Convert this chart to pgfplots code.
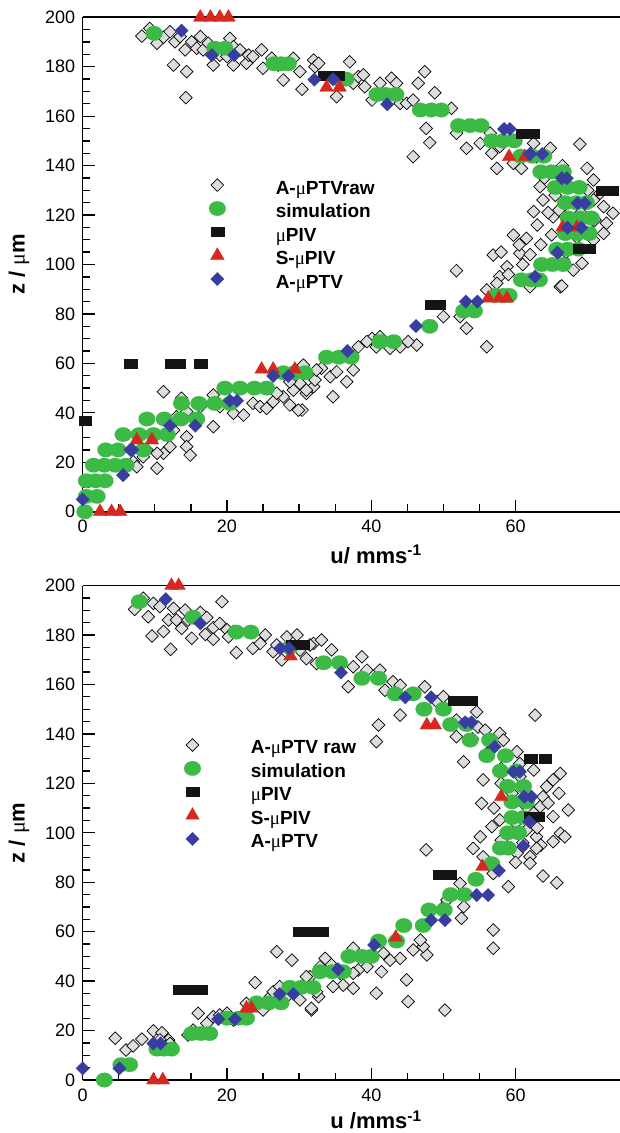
\documentclass[border=0pt]{standalone}
\usepackage{pgfplots}
\pgfplotsset{compat=1.18}
\usepackage{fontspec}
\setmainfont{Liberation Sans}
\newfontfamily\symf{Liberation Serif}
\newcommand{\mus}{{\symf\mdseries μ}}
\definecolor{rawgray}{RGB}{221,221,221}
\definecolor{simgreen}{RGB}{60,186,70}
\definecolor{pivred}{RGB}{214,40,30}
\definecolor{ptvblue}{RGB}{56,62,160}
\definecolor{pivblack}{RGB}{20,20,20}
\pgfplotsset{
 myleg/.style={legend image code/.code={\path[draw=none,fill=none] (-8pt,-6pt) rectangle (8pt,6pt); \draw[##1] plot coordinates {(0pt,0pt)};}},
 panel/.style={
  scale only axis, width=537.3pt, height=494.4pt,
  xmin=0, xmax=74.47, ymin=0, ymax=200,
  axis y line*=left,
  xtick={0,20,40,60}, ytick={0,20,...,200},
  minor x tick num=3, minor y tick num=3,
  xtick pos=bottom,
  tick align=inside,
  major tick length=12pt, minor tick length=7.5pt,
  tick style={black, line width=1.3pt},
  axis line style={line width=1.6pt},
  clip=false,
  /pgf/number format/assume math mode=true,
  tick label style={font=\fontsize{18}{20}\selectfont},
  yticklabel style={xshift=-4pt},
  xticklabel style={yshift=-5pt},
  every axis y label/.style={at={(axis description cs:-0.1186,0.5)}, rotate=90, anchor=center, font=\fontsize{22}{24}\selectfont\bfseries},
  every axis x label/.style={at={(axis description cs:0.546,-0.1044)}, anchor=base, font=\fontsize{22}{24}\selectfont\bfseries},
  legend style={draw=none, fill=none, inner sep=0pt, outer sep=0pt, font=\fontsize{19}{21}\selectfont\bfseries, row sep=1.5pt, column sep=50pt, nodes={inner sep=0pt, text height=20pt, text depth=2pt}},
  legend cell align=left,
 },
 rawst/.style={only marks, mark=square*, mark size=4.5pt, mark options={rotate=45, fill=rawgray, draw=black, line width=0.7pt}, myleg},
 simst/.style={only marks, mark=*, mark size=7.3pt, mark options={xscale=1.15, fill=simgreen, draw=simgreen, line width=0.1pt}, myleg},
 pivst/.style={only marks, mark=square*, mark size=4.5pt, mark options={xscale=1.4, fill=pivblack, draw=pivblack, line width=0.1pt}, myleg},
 spivst/.style={only marks, mark=triangle*, mark size=8pt, mark options={fill=pivred, draw=pivred, line width=0.1pt}, myleg},
 ptvst/.style={only marks, mark=square*, mark size=4.8pt, mark options={rotate=45, fill=ptvblue, draw=ptvblue, line width=0.1pt}, myleg},
}
\begin{document}
\begin{tikzpicture}
% ================= TOP PANEL =================
\begin{axis}[panel, at={(0pt,0pt)}, anchor=south west,
  xlabel={u/ mms\textsuperscript{-1}}, ylabel={z / \mus m},
  legend style={at={(axis description cs:0.235,0.683)}, anchor=north west}]
\addplot[rawst] table {
8.2 192.4
9.3 195.5
10.3 189.5
11.2 191.9
12.1 194.2
12.8 190.1
12.6 180.7
13.5 192.2
14.2 186.8
14.4 178
14.3 167.5
15.1 190.1
15.8 187.5
16.3 192.2
16.7 186.8
17.4 189.5
18.1 180.7
19.0 184.7
20.0 184.1
20.4 191.5
20.9 188.1
20.9 180.7
21.8 186.8
22.7 181.4
23.0 184.7
23.6 184.1
24.8 186.8
25.0 179.4
26.2 183.4
27.1 180.7
27.8 174.6
28.7 181.4
29.2 183.4
30.1 178
30.4 170.9
32.0 182.7
32.2 180
32.7 181.4
35.2 167.9
37.0 182
37.5 173.3
38.2 176
38.9 176.7
39.1 171.9
40.1 166.5
41.2 173.3
42.8 175.3
43.5 173.3
44.0 165.2
44.9 165.2
45.8 166.5
46.5 173.3
47.4 178
47.6 155.1
48.1 149.3
48.8 169.5
45.8 143.6
51.1 163.2
51.8 153.1
53.2 147
55.1 149
56.5 153.1
56.7 145
57.4 138.9
57.8 147.7
59.7 140.9
60.6 143.6
60.8 138.9
62.5 149
62.9 143.6
64.8 147
64.3 136.9
63.4 131.5
68.9 148.7
69.9 138.9
70.8 134.2
63.8 126.1
62.5 121.4
65.2 119.3
66.6 123.4
70.8 126.1
71.7 128.8
72.2 123.4
73.5 120.7
72.6 116.7
72.2 112.6
70.8 109.9
66.6 101.8
68.0 97.7
69.2 100.5
66.2 91
59.7 111.9
61.5 110.6
60.6 104.5
58.8 99.1
57.8 95.1
56.9 103.8
57.4 92.4
51.8 97.5
56.0 89.7
64.0 135
65.5 128
66.0 122
67.5 117
69.0 121
70.0 115
71.0 118
65.0 112
63.5 108
62.0 104
64.0 100
67.0 105
68.5 111
70.0 130
66.5 140
61.0 100
59.0 96
60.5 108
58.0 105
63.0 116
64.5 121
62.0 91
66.4 91.3
50.0 78.9
53.2 74.2
52.3 78.9
56.0 66.7
46.3 67.4
45.1 68.8
44.0 66.7
42.6 66.1
40.7 66.7
40.1 70.1
39.4 68.8
38.2 66.7
37.5 57.3
36.6 52.6
34.7 46.5
34.3 54.6
33.1 58
32.0 50.6
31.0 47.9
30.4 41.1
32.2 53.3
35.2 56.6
41.2 70.8
11.2 48.5
13.7 45.9
18.1 47.2
19.0 42.5
18.1 34.4
16.3 42.5
14.4 40.5
13.0 38.4
12.6 33.0
14.4 30.3
14.4 26.3
14.9 22.9
12.1 26.3
11.2 23.6
10.3 17.6
10.3 23.6
8.9 25
8.4 22.2
7.0 20.2
7.5 18.2
20.9 39.8
22.3 39.1
23.6 43.9
24.6 42.5
25.5 41.8
26.4 44.5
27.8 46.5
28.7 43.2
29.9 41.1
29.2 49.2
30.1 51.9
31.0 49.2
32.4 57.3
30.6 59.3
28.7 52.6
26.9 47.9
};
\addlegendentry{A-\mus PTVraw}
\addplot[simst] table {
9.9 193.5
18.3 187.5
19.7 187.5
26.5 181.2
27.5 181.2
28.5 181.2
35.5 175
36.5 175
40.8 168.8
42.0 168.8
43.4 168.8
46.8 162.5
48.3 162.5
49.7 162.5
52.1 156.2
53.7 156.2
55.2 156.2
56.7 150
58.2 150
59.8 150
60.7 143.8
62.3 143.8
63.9 143.8
63.5 137.5
65.0 137.5
66.6 137.5
65.5 131.2
67.2 131.2
68.8 131.2
66.9 125
68.4 125
69.8 125
67.3 118.8
68.9 118.8
70.5 118.8
66.9 112.5
68.6 112.5
70.2 112.5
65.7 106.2
67.2 106.2
68.7 106.2
63.6 100
65.1 100
66.6 100
60.8 93.8
62.2 93.8
63.3 93.8
57.2 87.5
58.3 87.5
59.1 87.5
52.8 81.2
54.3 81.2
48.1 75
41.2 68.8
43.1 68.8
33.8 62.5
35.5 62.5
37.2 62.5
27.8 56.2
29.3 56.2
30.8 56.2
19.7 50
21.8 50
23.8 50
25.5 50
13.7 43.8
16.1 43.8
18.3 43.8
20.4 43.8
8.9 37.5
11.3 37.5
13.6 37.5
15.8 37.5
5.6 31.2
7.8 31.2
9.8 31.2
11.7 31.2
3.2 25
4.9 25
8.4 25
1.5 18.8
3.0 18.8
4.5 18.8
6.0 18.8
0.5 12.5
1.8 12.5
3.1 12.5
0.5 6.2
2.0 6.2
0.3 0
};
\addlegendentry{simulation}
\addplot[pivst] table {
0.3 36.8
6.65 60
12.3 60
13.3 60
16.3 60
48.3 83.6
49.3 83.6
68.8 106.5
70.2 106.5
72.0 130
73.3 130
60.9 153.1
62.4 153.1
33.5 176.6
35.3 176.6
};
\addlegendentry{\mus PIV}
\addplot[spivst] table {
16.3 200
17.7 200
19.0 200
20.2 200
33.8 171.7
35.6 171.7
59.1 143.6
61.3 143.6
66.5 115
68.5 115
56.2 86.3
57.7 86.3
58.8 86.3
24.8 57.6
26.4 57.6
29.4 57.6
7.5 29
9.6 29
2.4 0
4.0 0
5.2 0
};
\addlegendentry{S-\mus PIV}
\addplot[ptvst] table {
13.7 194.6
17.9 184.7
21.0 184.7
32.1 174.8
34.7 174.9
42.2 164.8
58.4 154.8
59.2 154.8
62.0 144.7
63.7 144.7
66.4 134.9
67.1 134.9
68.6 124.8
69.6 124.8
67.2 114.9
69.1 114.9
65.8 104.8
62.7 95.1
53.1 85
54.7 85
46.2 75.1
36.7 65
26.4 54.9
28.5 54.9
20.4 44.9
21.4 44.9
12.1 34.8
15.6 34.8
6.6 25
6.9 25
5.6 14.8
0 5
};
\addlegendentry{A-\mus PTV}
\end{axis}
% ================= BOTTOM PANEL =================
\begin{axis}[panel, at={(0pt,-568.3pt)}, anchor=south west,
  xlabel={u /mms\textsuperscript{-1}}, ylabel={z / \mus m},
  every axis x label/.style={at={(axis description cs:0.546,-0.0985)}, anchor=base, font=\fontsize{22}{24}\selectfont\bfseries},
  legend style={at={(axis description cs:0.1887,0.70)}, anchor=north west}]
\addplot[rawst] table {
7.2 190.4
8.4 194.9
9.1 187.4
9.6 179.6
9.8 192.8
10.7 191.5
11.2 181.4
11.9 186.1
12.2 174.2
12.6 190.8
13.0 186.1
13.7 182.7
14.2 190.1
14.6 186.1
15.1 178.7
16.3 189.1
17.2 187.1
17.0 180.3
18.1 183
18.1 178.3
19.0 184.7
19.3 193.5
20.0 182.1
20.2 179.3
20.9 181.4
21.3 172.9
23.6 174.6
24.6 176.6
25.3 180
26.4 173.3
26.9 176
27.6 169.9
28.3 179.3
29.7 180
30.1 173.9
31.0 170.5
32.0 176.6
32.4 168.5
31.5 176
33.1 178
34.5 174
36.8 159.1
37.5 167.2
38.7 171.2
39.4 165.8
41.2 165.8
41.9 157.7
43.0 161.1
44.0 159.7
44.0 147.6
45.8 156.4
47.4 159.1
49.1 153
50.0 155.1
51.8 145.6
51.8 138.9
52.8 128.7
54.6 148.9
54.8 142.8
55.8 141.5
56.9 134.8
57.8 140.2
58.3 137.5
60.2 132.8
60.6 128
62.7 147.6
60.6 122.7
62.5 125.4
64.3 118.7
65.2 121.4
66.2 124
67.3 109.2
63.8 114.6
63.4 110.6
65.2 106.5
66.2 99.8
66.8 98.4
62.9 98.4
61.5 101.1
60.2 91.7
62.0 90.3
57.8 105.2
56.7 102.5
55.3 111.9
55.1 98.4
55.5 121.4
41.0 143.6
40.7 136.9
47.6 93.1
58.0 120
59.5 116
61.0 112
62.5 108
60.0 104
63.0 102
64.5 112
66.0 116
57.0 110
59.0 100
61.0 96
63.5 95
58.0 97
60.0 88
58.0 126
56.0 132
54.0 138
54.1 93.7
55.5 90.3
56.9 83.5
59.0 78.2
62.0 87.7
63.8 82.5
65.7 79.8
62.9 93.7
65.2 96.4
52.3 79.5
52.8 70.1
56.9 60.7
56.9 53.3
52.5 65.4
50.0 70.1
50.5 72.8
47.7 50.6
47.2 54
46.8 56.6
45.8 52.6
44.9 40.5
45.1 31.7
44.0 49.2
43.3 56.6
42.6 48.5
41.7 51.3
41.4 43.8
40.7 35.1
39.4 45.8
38.2 44.5
37.5 43.2
37.5 37.1
36.1 38.4
35.7 43.2
34.7 37.8
34.3 47.2
33.6 49.2
32.9 45.8
32.7 33.7
31.7 28.3
31.5 41.8
30.6 37.8
50.2 28.3
37.5 53.3
4.5 16.9
6.0 12.1
7.0 13.8
8.2 16.5
9.8 19.9
11.0 19.1
11.9 16.2
12.1 14.8
14.6 18.2
15.3 20.2
16.0 27
17.2 22.9
18.1 25.6
19.0 26.3
20.0 27
20.9 24.3
22.7 31
23.9 39.4
25.0 28.3
26.0 33.7
26.4 35.7
26.9 51.9
27.3 37.8
28.3 33.7
29.0 48.5
30.1 32.4
31.0 41.8
31.7 29
32.4 35.7
10.7 16.2
15.1 18.9
};
\addlegendentry{A-\mus PTV raw}
\addplot[simst] table {
7.85 193.5
15.3 187.2
21.3 181.2
23.3 181.2
28.7 175
33.4 168.8
35.6 168.8
38.7 162.5
41.0 162.5
43.3 156.2
45.8 156.2
47.3 150
50.0 150
51.0 143.8
53.2 143.8
53.7 137.5
56.4 137.5
56.0 131.2
58.6 131.2
57.9 125
60.1 125
58.9 118.8
61.1 118.8
59.5 112.5
61.5 112.5
59.5 106.2
61.1 106.2
58.9 100
60.4 100
57.9 93.8
59.0 93.8
56.7 87.5
54.5 81.2
51.0 75
52.9 75
48.0 68.8
50.1 68.8
44.5 62.5
47.2 62.5
41.0 56.2
43.5 56.2
36.9 50
38.7 50
40.0 50
32.9 43.8
34.6 43.8
36.1 43.8
28.7 37.5
30.3 37.5
31.9 37.5
24.1 31.2
25.8 31.2
27.5 31.2
20.0 25
21.6 25
22.7 25
15.1 18.8
16.4 18.8
17.6 18.8
10.3 12.5
11.3 12.5
12.3 12.5
5.3 6.2
6.5 6.2
3.0 0
};
\addlegendentry{simulation}
\addplot[pivst] table {
29.0 176.3
30.5 176.3
51.5 153.3
52.7 153.3
53.8 153.3
62.1 129.9
64.1 129.9
62.1 106.5
63.1 106.5
49.5 83.3
50.9 83.3
30.0 60
31.5 60
33.2 60
13.4 36.7
14.8 36.7
16.3 36.7
};
\addlegendentry{\mus PIV}
\addplot[spivst] table {
12.3 200
13.3 200
28.8 171.5
47.7 143.6
48.8 143.6
58.0 114.6
55.4 86.3
43.4 57.7
22.7 29
23.4 29
9.8 0
11.1 0
};
\addlegendentry{S-\mus PIV}
\addplot[ptvst] table {
11.5 194.5
16.3 184.7
27.4 174.6
28.6 174.6
35.8 164.8
44.7 154.8
48.3 154.8
53.0 144.7
53.9 144.7
57.1 134.8
59.7 124.7
60.6 124.7
61.2 114.6
62.2 114.6
61.9 104.5
61.1 94.7
57.7 84.7
54.6 74.8
56.2 74.8
48.3 64.7
50.2 64.7
40.4 54.6
35.4 44.8
27.3 34.8
29.2 34.8
18.8 24.6
21.1 24.6
9.8 14.8
10.8 14.8
5.1 4.7
0 4.7
};
\addlegendentry{A-\mus PTV}
\end{axis}
\pgfresetboundingbox
\path[use as bounding box] (-82.7pt,511.7pt) rectangle (537.3pt,-621.3pt);
\end{tikzpicture}
\end{document}
